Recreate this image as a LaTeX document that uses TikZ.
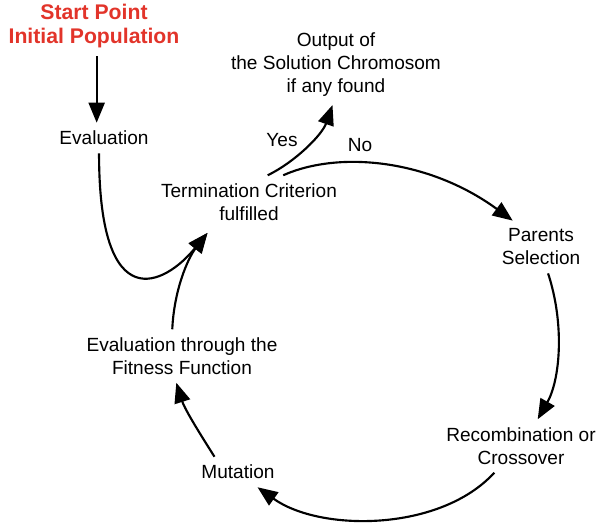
\documentclass[tikz,border=0pt]{standalone}
\usepackage{fontspec}
\setmainfont{Liberation Sans}
\usepackage{xcolor}
\usetikzlibrary{arrows.meta}
\definecolor{startred}{RGB}{226,52,42}

\begin{document}
\begin{tikzpicture}[x=0.75pt,y=-0.75pt,
  txt/.style={align=center,inner sep=6pt,font=\fontsize{14.3}{17.2}\selectfont},
  lbl/.style={inner sep=0pt,font=\fontsize{14.3}{17.2}\selectfont},
  arr/.style={line width=1.6pt,-{Triangle[length=15pt,width=12pt]}}]
\useasboundingbox (0,0) rectangle (599,527);
\node[txt,text=startred,font=\bfseries\fontsize{15.9}{18}\selectfont] (start) at (94,26) {Start Point\\Initial Population};
\node[txt] (eval) at (104,138) {Evaluation};
\node[txt] (output) at (336,65) {Output of\\the Solution Chromosom\\if any found};
\node[txt] (term) at (249,202) {Termination Criterion\\fulfilled};
\node[txt] (parents) at (541,247) {Parents\\Selection};
\node[txt] (recomb) at (521,446) {Recombination or\\Crossover};
\node[txt] (mutation) at (238,472) {Mutation};
\node[txt] (evalfit) at (182,356) {Evaluation through the\\Fitness Function};
\node[lbl] (yes) at (282,140) {Yes};
\node[lbl] (no) at (360,145) {No};
\draw[arr] ([xshift=2pt]start.south) -- ([xshift=2pt]start.south |- eval.north);
\draw[arr,shorten >=4pt] (eval.-108) .. controls (99,320) and (165,285) .. (term.-145);
\draw[arr,shorten >=4pt] (evalfit.110) .. controls (174,290) and (188,258) .. (term.-145);
\draw[arr] (term.55) .. controls (295,162) and (322,135) .. (output.-95);
\draw[arr] (term.38) .. controls (340,150) and (430,160) .. (parents.137);
\draw[arr] (parents.-75) .. controls (565,325) and (560,380) .. (recomb.58);
\draw[arr] (recomb.-135) .. controls (440,532) and (320,532) .. (mutation.-38);
\draw[arr] (mutation.147) .. controls (202,437) and (185,410) .. (evalfit.-102);
\end{tikzpicture}
\end{document}
